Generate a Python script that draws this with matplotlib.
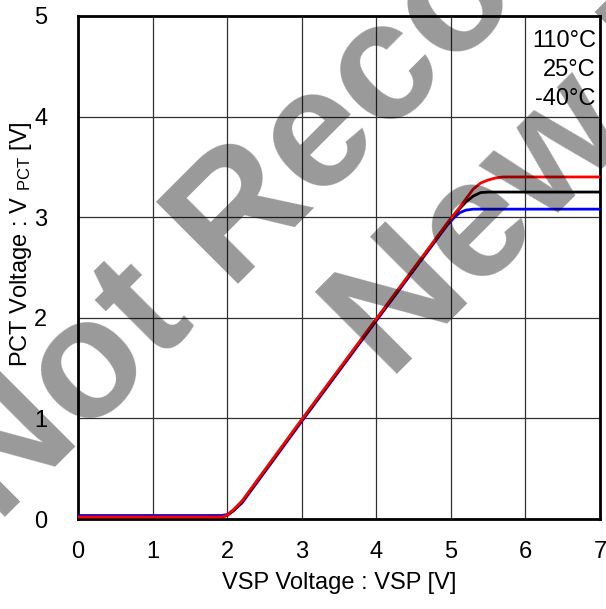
import matplotlib
matplotlib.use("Agg")
import matplotlib.pyplot as plt

# ---- data ----
x_red = [0.0, 1.0, 1.93, 2.0, 2.08, 2.2, 3.0, 4.0, 5.0, 5.1, 5.2, 5.3, 5.4, 5.5, 5.6, 5.7, 7.0]
y_red = [0.02, 0.02, 0.02, 0.04, 0.09, 0.18, 0.99, 1.99, 2.99, 3.08, 3.18, 3.28, 3.34, 3.37, 3.39, 3.40, 3.40]

x_blk = [0.0, 1.0, 1.93, 2.0, 2.08, 2.2, 3.0, 4.0, 5.0, 5.1, 5.2, 5.3, 5.4, 5.5, 7.0]
y_blk = [0.02, 0.02, 0.02, 0.035, 0.08, 0.17, 0.98, 1.98, 2.98, 3.07, 3.15, 3.21, 3.245, 3.25, 3.25]

x_blu = [0.0, 1.0, 1.93, 2.0, 2.08, 2.2, 3.0, 4.0, 4.95, 5.05, 5.12, 5.2, 5.3, 7.0]
y_blu = [0.035, 0.035, 0.035, 0.045, 0.08, 0.16, 0.97, 1.97, 2.92, 3.0, 3.045, 3.07, 3.08, 3.08]

x_ticks = [0, 1, 2, 3, 4, 5, 6, 7]
y_ticks = [0, 1, 2, 3, 4, 5]
legend_labels = ["110°C", "25°C", "-40°C"]
watermark_lines = ["Not Recommended for", "New Designs"]

plt.rcParams['font.family'] = ['Liberation Sans', 'DejaVu Sans']
W, H = 606, 609

fig = plt.figure(figsize=(W/100, H/100), dpi=100)
ax = fig.add_axes([78/W, 1-519/H, (600-78)/W, (519-16)/H])

ax.plot(x_blu, y_blu, color='#0000ff', lw=2.0, zorder=3)
ax.plot(x_blk, y_blk, color='black', lw=2.0, zorder=4)
ax.plot(x_red, y_red, color='#ff0000', lw=2.0, zorder=5)

ax.set_xlim(0, 7)
ax.set_ylim(0, 5)
ax.set_xticks(x_ticks)
ax.set_yticks(y_ticks)
ax.tick_params(length=0, labelsize=17)
ax.tick_params(axis='x', pad=16)
ax.tick_params(axis='y', pad=22)
ax.grid(True, color='#303030', lw=0.9)
ax.set_axisbelow(True)
for s in ax.spines.values():
    s.set_linewidth(2)
    s.set_color('black')

ax.set_xlabel("VSP Voltage : VSP [V]", fontsize=17, labelpad=6)
fig.text(21/W, 1-367/H, r"PCT Voltage : V $\mathregular{_{PCT}}$ [V]", fontsize=17,
         rotation=90, ha='center', va='bottom')

for i, lab in enumerate(legend_labels):
    ax.text(0.992, 0.950 - i*0.0575, lab, transform=ax.transAxes, ha='right', va='center',
            fontsize=17, zorder=6)

# watermark (two lines, anchored at their baseline starts)
anchors = [(-2, 525), (390, 382)]
for txt, (px, py) in zip(watermark_lines, anchors):
    fig.text(px/W, 1-py/H, txt, fontsize=122, fontweight='bold',
             color='black', alpha=0.4, rotation=45, ha='left', va='baseline',
             rotation_mode='anchor', zorder=10)

fig.savefig("out.png", dpi=100)
